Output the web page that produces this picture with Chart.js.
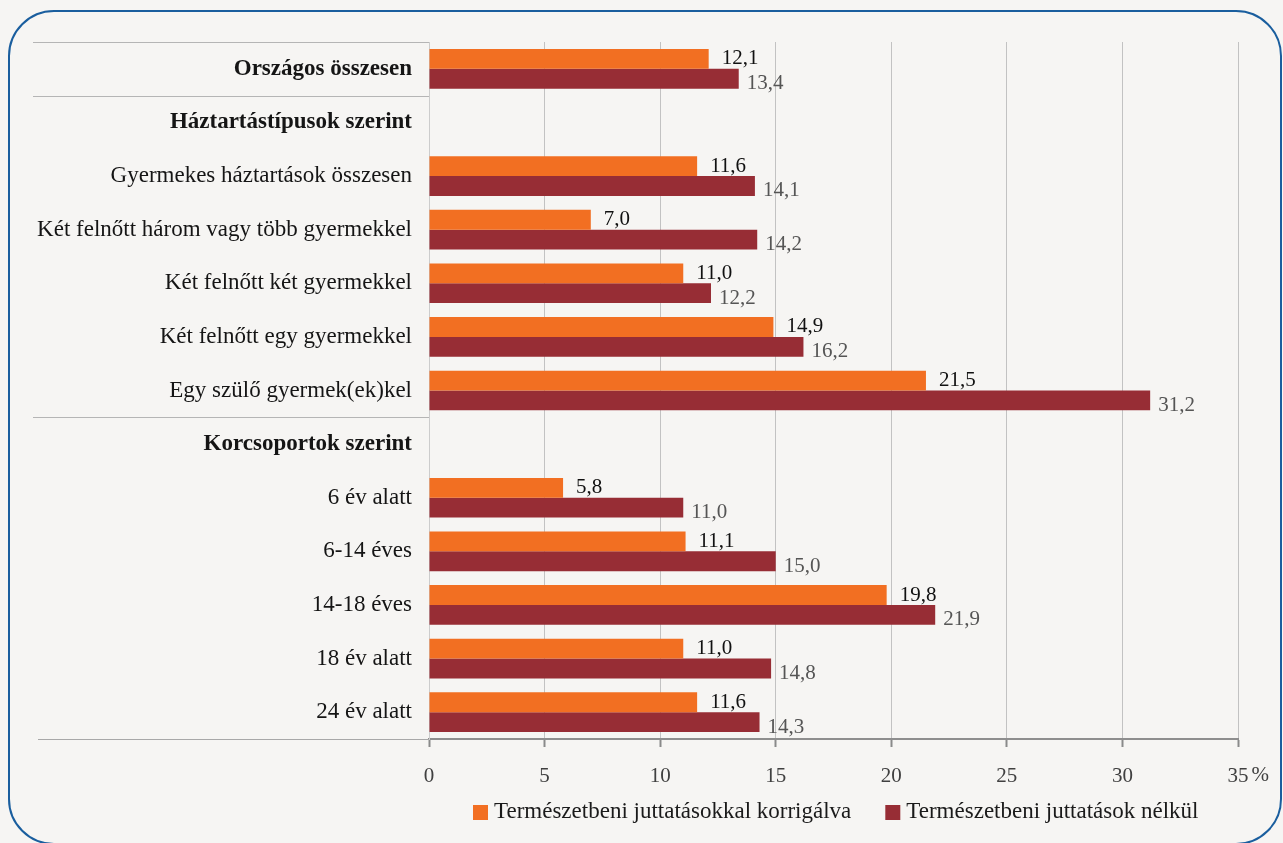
<!DOCTYPE html>
<html>
<head>
<meta charset="utf-8">
<script src="https://cdn.jsdelivr.net/npm/chart.js@4"></script>
<style>
  html, body { margin: 0; padding: 0; background: #f6f5f3; overflow: hidden; }
  #frame {
    position: absolute; left: 8px; top: 10px; width: 1270px; height: 831px;
    border: 2.5px solid #1a5e9e; border-radius: 46px; pointer-events: none;
  }
  canvas { position: absolute; left: 0; top: 0; }
</style>
</head>
<body>
<div id="frame"></div>
<canvas id="povertyChart" width="1283" height="843"></canvas>
<script>
// Categories (header rows have no bars)
var categories = [
  'Országos összesen',
  'Háztartástípusok szerint',
  'Gyermekes háztartások összesen',
  'Két felnőtt három vagy több gyermekkel',
  'Két felnőtt két gyermekkel',
  'Két felnőtt egy gyermekkel',
  'Egy szülő gyermek(ek)kel',
  'Korcsoportok szerint',
  '6 év alatt',
  '6-14 éves',
  '14-18 éves',
  '18 év alatt',
  '24 év alatt'
];
var boldRows = [0, 1, 7];

var seriesNames = ['Természetbeni juttatásokkal korrigálva', 'Természetbeni juttatások nélkül'];
var withBenefits = [12.1, null, 11.6, 7.0, 11.0, 14.9, 21.5, null, 5.8, 11.1, 19.8, 11.0, 11.6];
var withoutBenefits = [13.4, null, 14.1, 14.2, 12.2, 16.2, 31.2, null, 11.0, 15.0, 21.9, 14.8, 14.3];

var colors = ['#f26f22', '#972d35'];
var labelColors = ['#111111', '#555555'];
var fontFamily = "'Liberation Serif', 'DejaVu Serif', serif";

// group separators, value labels and custom legend
var decorPlugin = {
  id: 'decor',
  beforeDatasetsDraw: function (chart) {
    var ctx = chart.ctx, area = chart.chartArea, y = chart.scales.y;
    var seps = [area.top, (y.getPixelForValue(0) + y.getPixelForValue(1)) / 2,
      (y.getPixelForValue(6) + y.getPixelForValue(7)) / 2];
    ctx.save();
    ctx.strokeStyle = '#b5b5b5';
    ctx.lineWidth = 1;
    seps.forEach(function (py) {
      ctx.beginPath();
      ctx.moveTo(33, Math.round(py) + 0.5);
      ctx.lineTo(area.left, Math.round(py) + 0.5);
      ctx.stroke();
    });
    ctx.strokeStyle = '#a8a8a8';
    ctx.beginPath();
    ctx.moveTo(38, area.bottom + 0.5);
    ctx.lineTo(area.left, area.bottom + 0.5);
    ctx.stroke();
    ctx.restore();
  },
  afterDatasetsDraw: function (chart) {
    var ctx = chart.ctx;
    ctx.save();
    ctx.font = '21px ' + fontFamily;
    ctx.textBaseline = 'middle';
    ctx.textAlign = 'left';
    chart.data.datasets.forEach(function (ds, di) {
      var meta = chart.getDatasetMeta(di);
      ctx.fillStyle = labelColors[di];
      meta.data.forEach(function (bar, i) {
        var v = ds.data[i];
        if (v === null) return;
        var txt = v.toFixed(1).replace('.', ',');
        ctx.fillText(txt, bar.x + (di === 0 ? 13 : 8), bar.y + (di === 0 ? 0 : 5));
      });
    });
    ctx.restore();
  },
  afterDraw: function (chart) {
    var ctx = chart.ctx, x = chart.scales.x;
    ctx.save();
    // percent sign after the last tick
    ctx.font = '21px ' + fontFamily;
    ctx.fillStyle = '#404040';
    ctx.textBaseline = 'middle';
    ctx.textAlign = 'left';
    var w35 = ctx.measureText('35').width;
    ctx.fillText('%', x.getPixelForValue(35) + w35 / 2 + 3, 775);
    // legend
    ctx.font = '23px ' + fontFamily;
    var lx = 473, ly = 812;
    seriesNames.forEach(function (name, i) {
      ctx.fillStyle = colors[i];
      ctx.fillRect(lx, ly - 7, 15, 15);
      ctx.fillStyle = '#1a1a1a';
      ctx.fillText(name, lx + 21, ly);
      lx += 21 + ctx.measureText(name).width + 34;
    });
    ctx.restore();
  }
};

var chart = new Chart(document.getElementById('povertyChart').getContext('2d'), {
  type: 'bar',
  data: {
    labels: categories,
    datasets: [
      { label: seriesNames[0], data: withBenefits, backgroundColor: colors[0] },
      { label: seriesNames[1], data: withoutBenefits, backgroundColor: colors[1] }
    ]
  },
  options: {
    indexAxis: 'y',
    responsive: false,
    devicePixelRatio: 1,
    animation: false,
    categoryPercentage: 0.74,
    barPercentage: 1,
    layout: { padding: { top: 42, right: 45, left: 0, bottom: 0 } },
    plugins: { legend: { display: false }, tooltip: { enabled: false } },
    scales: {
      x: {
        min: 0,
        max: 35,
        ticks: {
          stepSize: 5,
          padding: 17,
          color: '#404040',
          font: { family: fontFamily, size: 21 }
        },
        grid: { color: '#c2c2c2', tickColor: '#8a8a8a', tickLength: 8, tickWidth: 2 },
        border: { color: '#8e8e8e', width: 2 },
        afterFit: function (scale) { scale.height = 104; }
      },
      y: {
        ticks: {
          padding: 17,
          color: '#151515',
          font: function (ctx) {
            return { family: fontFamily, size: 23, weight: boldRows.indexOf(ctx.index) >= 0 ? 'bold' : 'normal' };
          }
        },
        grid: { display: false, drawTicks: false },
        border: { color: '#cccccc', width: 1 },
        afterFit: function (scale) { scale.width = 429; }
      }
    }
  },
  plugins: [decorPlugin]
});
</script>
</body>
</html>
